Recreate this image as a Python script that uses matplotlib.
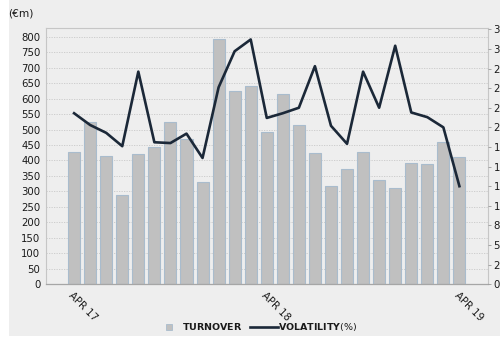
import matplotlib
matplotlib.use("Agg")
import matplotlib.pyplot as plt
from matplotlib.patches import Rectangle
from matplotlib.lines import Line2D
import numpy as np

plt.rcParams["mathtext.fontset"] = "dejavusans"

# monthly turnover (EUR m) and volatility (%), Apr 2017 -> Apr 2019
months = ["APR 17", "MAY 17", "JUN 17", "JUL 17", "AUG 17", "SEP 17", "OCT 17",
          "NOV 17", "DEC 17", "JAN 18", "FEB 18", "MAR 18", "APR 18", "MAY 18",
          "JUN 18", "JUL 18", "AUG 18", "SEP 18", "OCT 18", "NOV 18", "DEC 18",
          "JAN 19", "FEB 19", "MAR 19", "APR 19"]
turnover = [427, 523, 413, 288, 421, 444, 525, 469, 330, 792, 624, 640, 491,
            614, 514, 423, 317, 373, 427, 337, 310, 393, 389, 460, 411]
volatility = [21.8, 20.3, 19.3, 17.6, 27.1, 18.1, 18.0, 19.2, 16.1, 25.1, 29.7,
              31.2, 21.2, 21.8, 22.5, 27.8, 20.2, 17.9, 27.1, 22.5, 30.4, 21.9,
              21.3, 20.0, 12.5]
shown_months = ["APR 17", "APR 18", "APR 19"]
left_ticks = list(range(0, 801, 50))
right_ticks = [i * 2.5 for i in range(14)]

bg = "#eeeeee"
txt = "#1a1a1a"
fs = 7.3

fig = plt.figure(figsize=(5.0, 3.37), dpi=100, facecolor="white")
fig.patches.append(Rectangle((9 / 500, 1 / 337), 1, 1, transform=fig.transFigure,
                             facecolor=bg, edgecolor="none", zorder=-10))

ax = fig.add_axes([46 / 500, 1 - 284.3 / 337, (488 - 46) / 500, (284.3 - 27.7) / 337])
ax.set_facecolor(bg)
x = np.arange(len(months))
ax.bar(x, turnover, width=0.75, color="#c0c0c0", edgecolor="#a9bccd", linewidth=0.8, zorder=2)
ax.set_xlim(-1.75, len(months) - 1 + 1.78)
ax.set_ylim(0, 829)
ax.set_yticks(left_ticks)
ax.set_yticklabels([str(v) for v in left_ticks], fontsize=fs, color=txt)
ax.tick_params(axis="y", length=0, pad=4)
ax.grid(axis="y", color="#c8c8c8", linestyle=(0, (1.5, 1.5)), linewidth=0.6, zorder=0)

pos = [months.index(m) for m in shown_months]
ax.set_xticks(pos)
ax.set_xticklabels(shown_months, rotation=-45, ha="left", va="top",
                   rotation_mode="anchor", fontsize=fs, color=txt)
ax.tick_params(axis="x", length=0, pad=4)

for s in ["left", "top", "right"]:
    ax.spines[s].set_color("#c6c6c6")
    ax.spines[s].set_linewidth(0.8)
ax.spines["bottom"].set_color("#a6a6a6")
ax.spines["bottom"].set_linewidth(0.9)

ax2 = ax.twinx()
ax2.plot(x, volatility, color="#1b2838", linewidth=1.9, zorder=3)
ax2.set_ylim(0, 32.7)
ax2.set_yticks(right_ticks)
ax2.set_yticklabels([f"{round(v)}%" for v in right_ticks], fontsize=fs, color=txt)
ax2.tick_params(axis="y", length=2.5, width=0.6, color="#999999", pad=1.5)
for s in ax2.spines.values():
    s.set_visible(False)

fig.text(8 / 500, 1 - 14 / 337, "(€m)", fontsize=7.6, color=txt, va="center", ha="left")

handles = [
    Line2D([], [], marker="s", linestyle="none", markersize=4,
           markerfacecolor="#c0c0c0", markeredgecolor="#a9bccd", markeredgewidth=0.6),
    Line2D([], [], color="#1b2838", linewidth=1.9),
]
fig.legend(handles, [r"$\mathbf{TURNOVER}$", r"$\mathbf{VOLATILITY}$(%)"],
           loc="center", bbox_to_anchor=(0.512, 1 - 327 / 337), ncol=2, frameon=False,
           prop={"size": 6.8}, handlelength=2.9, handletextpad=0.0,
           columnspacing=0.8, labelcolor=txt)

fig.savefig("out.png", dpi=100, facecolor="white")
